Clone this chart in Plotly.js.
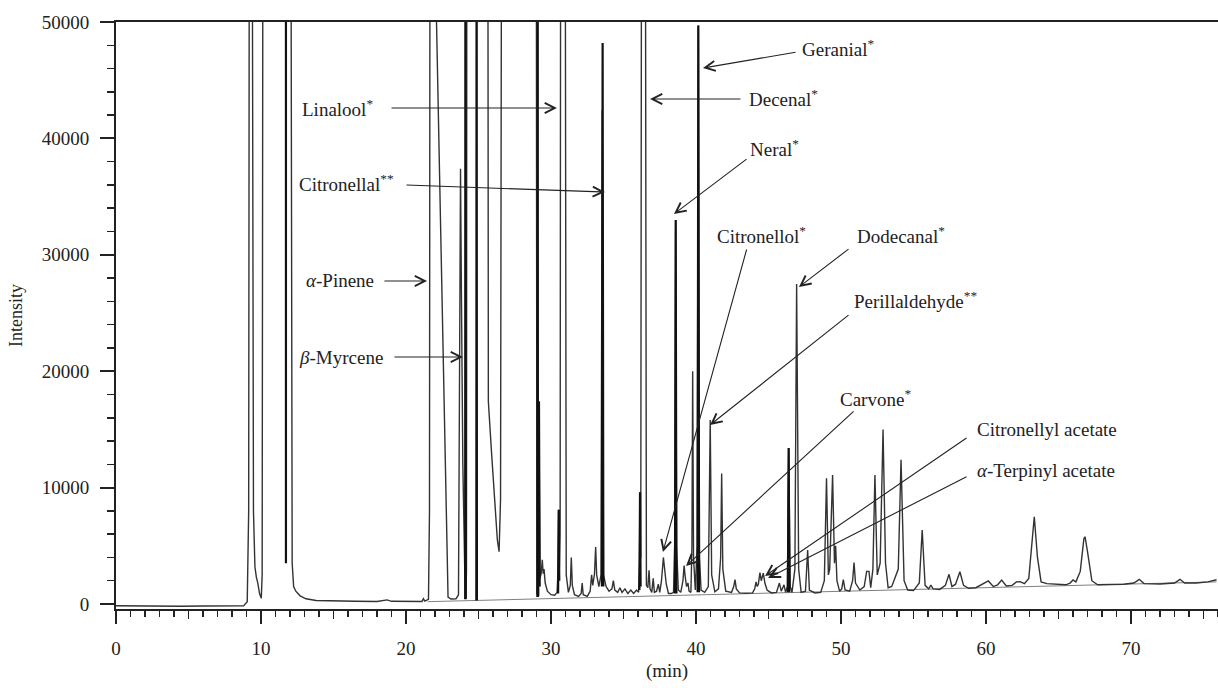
<!DOCTYPE html>
<html>
<head>
<meta charset="utf-8">
<script src="https://cdn.plot.ly/plotly-3.0.1.min.js"></script>
<style>html,body{margin:0;padding:0;background:#fff;}#chart{width:1218px;height:688px;}</style>
</head>
<body>
<div id="chart"></div>
<script>
// Main chromatogram trace (retention time in min, intensity). Off-scale peaks read as 70000 (clipped).
var mainTime = [0,1.5,3,4.5,6,7.5,8.8,9.05,9.15,9.2,9.38,9.48,9.58,9.68,9.78,9.9,10.02,10.08,10.14,12.05,12.15,12.25,12.4,12.7,13.1,13.8,15,16.5,18,18.7,19.0,20.5,21.1,21.2,21.3,21.55,21.62,21.66,22.0,22.04,22.9,23.1,23.45,23.62,23.7,23.76,23.82,23.92,24.05,24.14,24.17,24.2,25.64,25.68,25.9,26.1,26.3,26.42,26.52,26.6,28.98,29.03,29.12,29.17,29.23,29.32,29.4,29.46,29.52,29.6,29.75,30.0,30.25,30.42,30.49,30.53,30.58,30.63,30.67,30.97,31.05,31.2,31.33,31.4,31.47,31.62,31.9,32.08,32.15,32.22,32.5,32.7,32.8,32.88,33.0,33.08,33.15,33.3,33.45,33.53,33.62,33.8,34.0,34.2,34.3,34.4,34.6,34.75,34.9,35.1,35.3,35.5,35.7,35.9,36.04,36.1,36.14,36.19,36.25,36.5,36.58,36.68,36.76,36.83,36.95,37.05,37.13,37.28,37.4,37.5,37.62,37.75,37.85,37.95,38.1,38.3,38.45,38.55,38.6,38.66,38.78,38.95,39.1,39.18,39.25,39.35,39.45,39.52,39.65,39.72,39.77,39.83,39.95,40.08,40.16,40.24,40.35,40.6,40.85,40.98,41.08,41.3,41.55,41.7,41.77,41.85,42.05,42.45,42.6,42.69,42.78,43.0,43.5,43.9,44.05,44.14,44.22,44.3,44.41,44.5,44.64,44.75,44.9,45.2,45.55,45.75,45.88,46.07,46.18,46.3,46.39,46.5,46.62,46.82,46.94,47.08,47.25,47.55,47.7,47.82,48.2,48.6,48.85,49.0,49.13,49.22,49.42,49.55,49.63,49.72,49.9,50.05,50.16,50.28,50.6,50.8,50.9,51.0,51.3,51.6,51.77,51.93,52.05,52.2,52.34,52.5,52.7,52.9,53.07,53.25,53.5,53.95,54.14,54.35,54.6,55.0,55.4,55.6,55.8,56.05,56.2,56.35,56.8,57.2,57.45,57.65,57.9,58.2,58.45,58.8,59.3,59.8,60.16,60.5,60.8,61.08,61.4,61.8,62.1,62.35,62.65,62.95,63.15,63.33,63.55,63.8,64.2,64.8,65.5,65.8,66.0,66.2,66.5,66.75,66.83,67.0,67.3,67.7,68.5,69.5,70.2,70.57,70.9,72,73.0,73.38,73.7,74.5,75.3,75.9];
var mainIntensity = [-150,-180,-200,-190,-170,-175,-160,200,8000,70000,70000,8000,3200,2300,1800,900,500,2500,70000,70000,3500,1500,1100,700,450,300,250,230,220,350,230,200,220,450,250,400,8000,70000,70000,54000,600,430,450,800,25000,37400,27000,12000,3000,500,3000,70000,70000,17400,13000,9000,5500,4500,9000,70000,70000,900,700,17400,2200,2600,3800,2600,3000,1800,1100,800,750,1000,3000,8100,3200,6000,70000,70000,2500,1000,1600,4000,1600,800,650,900,1800,800,650,1100,2500,1600,2600,4900,2500,1500,2500,42400,2500,1500,1100,1300,2000,1200,1000,1400,1000,1300,900,1200,900,1200,1000,3500,9600,4000,70000,70000,1600,1400,2900,1300,1000,2200,1000,1100,1700,1000,2000,4000,3000,1700,900,900,1000,6000,33000,5000,1200,1000,2000,3300,2400,1500,1800,1100,1000,5000,20000,4000,1200,5000,49700,4000,1200,1000,1500,15800,2500,1050,1300,4000,11200,3000,1100,1000,1500,2100,1300,950,920,950,1300,1900,1500,1700,2700,2000,2650,1800,1200,950,1000,1800,1100,1650,1000,1500,13400,1500,1000,3000,27500,3000,1000,1100,4640,1200,950,1000,2000,10800,2500,3000,11080,3500,5000,2000,1100,1300,2100,1200,1100,2000,3550,1800,1200,1500,2800,2800,1400,3000,11080,2500,3500,15000,3500,1400,1500,3000,12400,2000,1200,1150,1800,6360,1600,1300,1630,1300,1250,1600,2550,1500,1700,2770,1600,1350,1400,1700,1980,1500,1650,2060,1550,1600,1900,1920,1750,2200,5000,7500,4000,1900,1750,1700,1650,1800,2060,1900,2800,5600,5780,4500,2000,1650,1650,1700,1800,2120,1750,1720,1800,2120,1800,1800,1900,2080];

// Overlaid sharp (black) peaks; null separates peaks
var blackTime = [11.72,11.72,null,24.08,24.1,24.12,null,24.85,24.87,24.89,null,29.06,29.08,29.1,null,29.12,29.17,29.22,null,30.49,30.53,30.57,null,33.51,33.56,33.61,null,36.1,36.14,36.18,null,38.55,38.6,38.65,null,40.11,40.16,40.21,null,46.34,46.39,46.44];
var blackIntensity = [70000,3500,null,400,70000,400,null,300,70000,300,null,600,70000,600,null,700,17400,1500,null,900,8100,2000,null,1500,48200,1500,null,1200,9600,1500,null,900,33000,900,null,1000,49700,1000,null,1000,13400,1000];

// Integration baseline
var baseTime = [21.5, 75.9];
var baseIntensity = [200, 1900];

// Tick labels
var xTickVals = [0,10,20,30,40,50,60,70];
var xMidTickVals = [5,15,25,35,45,55,65,75];
var yTickVals = [0,10000,20000,30000,40000,50000];

// Compound labels
var labelNames = ['Geranial<sup>*</sup>','Decenal<sup>*</sup>','Neral<sup>*</sup>','Citronellol<sup>*</sup>','Dodecanal<sup>*</sup>','Perillaldehyde<sup>**</sup>','Carvone<sup>*</sup>','Citronellyl acetate','<i>α</i>-Terpinyl acetate','Linalool<sup>*</sup>','Citronellal<sup>**</sup>','<i>α</i>-Pinene','<i>β</i>-Myrcene'];

// Layout placement of labels (text left edge / middle) and arrows (tail -> head), in axis units
var labelPos = [[47.17,47766],[43.52,43470],[43.59,39175],[41.31,31700],[50.97,31700],[50.76,26117],[49.79,17700],[59.24,14950],[59.24,11510],[12.69,42611],[12.48,36170],[12.97,27835],[12.48,21220]];
var arrowPos = [
  [46.97,47422,40.48,46048],
  [43.17,43385,36.83,43385],
  [43.59,38316,38.48,33505],
  [43.52,30584,37.72,4467],
  [50.62,30584,47.10,27233],
  [50.62,24914,40.97,15378],
  [50.97,16667,39.31,3265],
  [58.76,14347,44.76,2405],
  [58.76,10996,44.97,2234],
  [18.90,42611,30.41,42611],
  [19.93,35996,33.72,35395],
  [18.41,27749,21.45,27749],
  [19.10,21220,23.93,21220]
];

var ink = '#222222';
var fontFam = '"Liberation Serif", "DejaVu Serif", serif';

var traces = [
  {x: baseTime, y: baseIntensity, type: 'scatter', mode: 'lines', line: {color: '#808080', width: 1}, hoverinfo: 'skip', showlegend: false},
  {x: mainTime, y: mainIntensity, type: 'scatter', mode: 'lines', line: {color: '#333333', width: 1.4}, hoverinfo: 'skip', showlegend: false},
  {x: blackTime, y: blackIntensity, type: 'scatter', mode: 'lines', connectgaps: false, line: {color: '#111111', width: 2.2}, hoverinfo: 'skip', showlegend: false},
  {x: [], y: [], xaxis: 'x2', type: 'scatter', mode: 'lines', hoverinfo: 'skip', showlegend: false}
];

var annotations = [];
for (var i = 0; i < labelNames.length; i++) {
  annotations.push({x: labelPos[i][0], y: labelPos[i][1], xref: 'x', yref: 'y', text: labelNames[i], showarrow: false, xanchor: 'left', yanchor: 'middle', font: {family: fontFam, size: 19, color: ink}});
}
for (var j = 0; j < arrowPos.length; j++) {
  annotations.push({x: arrowPos[j][2], y: arrowPos[j][3], ax: arrowPos[j][0], ay: arrowPos[j][1], xref: 'x', yref: 'y', axref: 'x', ayref: 'y', text: '', showarrow: true, arrowhead: 5, arrowsize: 1.8, arrowwidth: 1.1, arrowcolor: ink, standoff: 0, startstandoff: 0});
}

var layout = {
  width: 1218, height: 688,
  margin: {l: 116, r: 0, t: 22, b: 79, pad: 0},
  paper_bgcolor: '#ffffff', plot_bgcolor: '#ffffff',
  font: {family: fontFam, size: 19, color: ink},
  showlegend: false,
  xaxis: {
    range: [0, 76.0], tickmode: 'array', tickvals: xTickVals, ticktext: xTickVals.map(String),
    ticks: 'outside', ticklen: 13, tickwidth: 2, tickcolor: ink,
    showline: true, linecolor: ink, linewidth: 2, mirror: true,
    showgrid: false, zeroline: false, ticklabelstandoff: 8,
    tickfont: {family: fontFam, size: 19, color: ink},
    minor: {dtick: 1, tick0: 0, ticks: 'outside', ticklen: 6, tickwidth: 1.5, tickcolor: ink, showgrid: false},
    title: {text: '(min)', font: {family: fontFam, size: 19, color: ink}, standoff: 6}
  },
  xaxis2: {
    overlaying: 'x', anchor: 'y', side: 'bottom', range: [0, 76.0],
    tickmode: 'array', tickvals: xMidTickVals, ticks: 'outside', ticklen: 9, tickwidth: 1.5, tickcolor: ink,
    showticklabels: false, showline: false, showgrid: false, zeroline: false
  },
  yaxis: {
    range: [-430, 50000], tickmode: 'array', tickvals: yTickVals, ticktext: yTickVals.map(String),
    ticks: 'outside', ticklen: 14, tickwidth: 2, tickcolor: ink,
    showline: true, linecolor: ink, linewidth: 2,
    showgrid: false, zeroline: false, ticklabelstandoff: 7,
    tickfont: {family: fontFam, size: 19, color: ink},
    minor: {dtick: 2000, tick0: 0, ticks: 'outside', ticklen: 7, tickwidth: 1.5, tickcolor: ink, showgrid: false},
    title: {text: 'Intensity', font: {family: fontFam, size: 18, color: ink}, standoff: 14}
  },
  annotations: annotations
};

Plotly.newPlot('chart', traces, layout, {staticPlot: true, displayModeBar: false});
</script>
</body>
</html>
